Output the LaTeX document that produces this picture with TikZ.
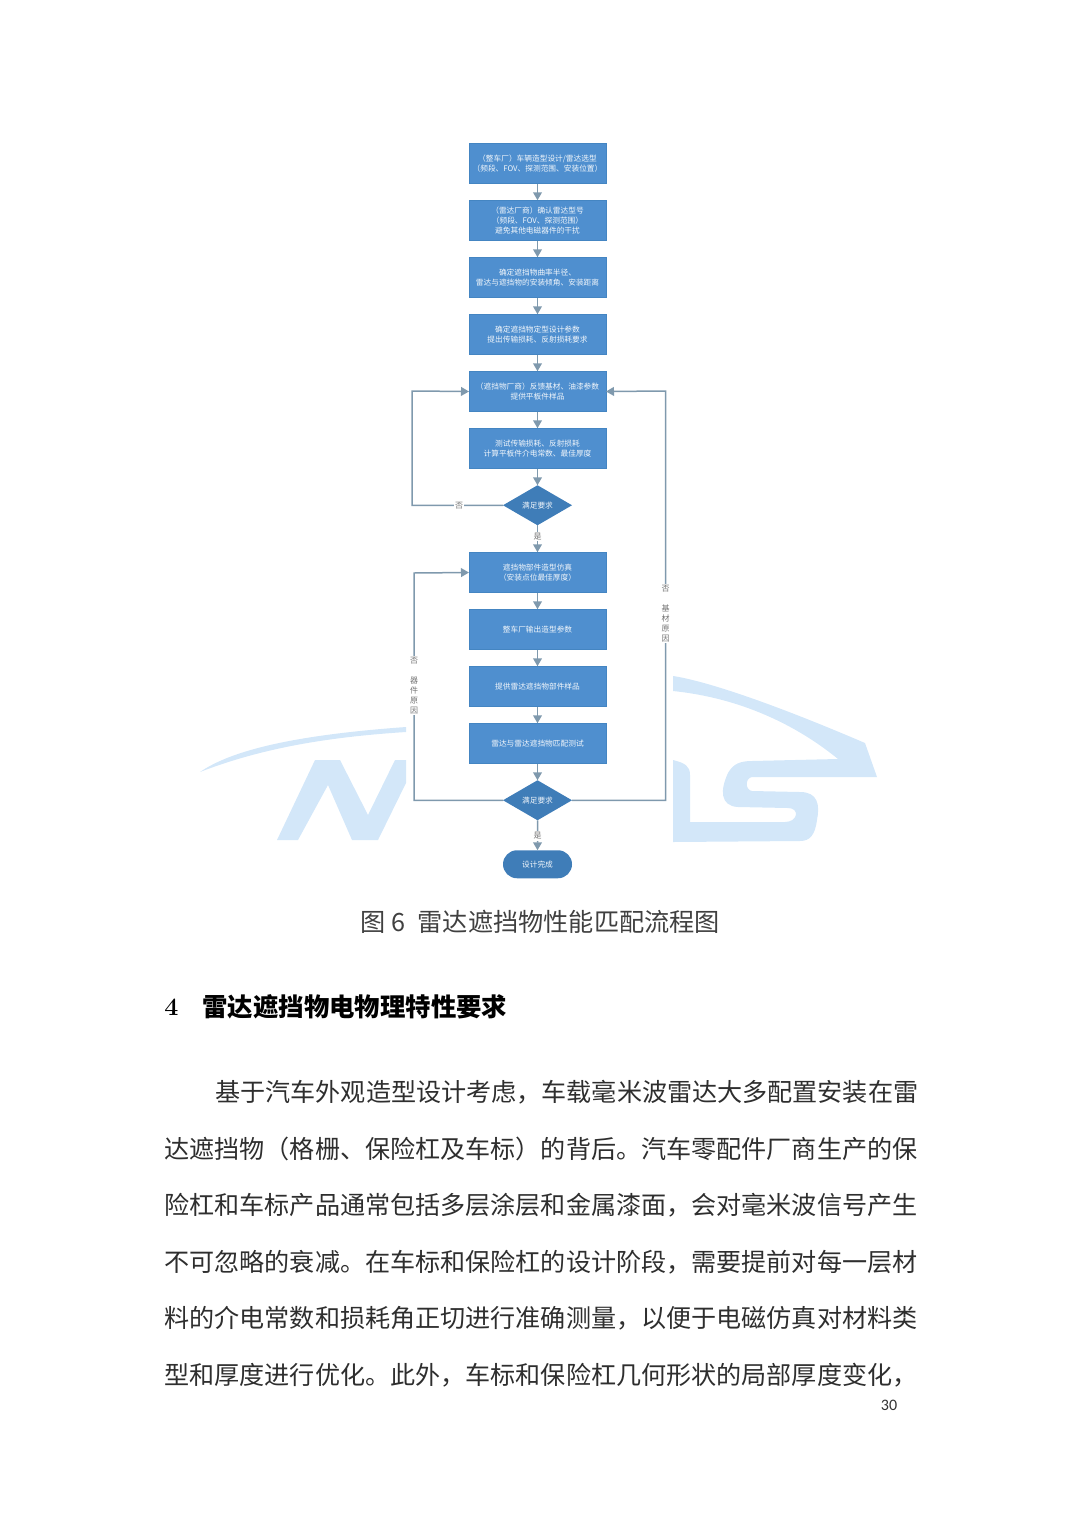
\documentclass[tikz,border=0pt]{standalone}
\usepackage{fontspec}
\usepackage{xcolor}
\usetikzlibrary{positioning,arrows.meta,shapes.geometric,shapes.misc}
\newfontfamily\cjk{Noto Sans CJK SC}
\newfontfamily\pagefont{Carlito}
\definecolor{boxblue}{HTML}{4F8FCF}
\definecolor{boxedge}{HTML}{4485C2}
\definecolor{deepblue}{HTML}{3F7DB8}
\definecolor{linegray}{HTML}{7F99AD}
\definecolor{markblue}{HTML}{D3E7F9}

\begin{document}
\begin{tikzpicture}[
  x=0.5pt, y=-0.5pt,
  node distance=8.25pt,
  every node/.style={font=\cjk},
  stepbox/.style={draw=boxedge, fill=boxblue, text=white!92!boxblue, line width=0.3pt,
                  minimum width=68.5pt, minimum height=20.25pt, inner sep=0pt,
                  outer sep=0pt, align=center,
                  font=\cjk\fontsize{3.85}{5.2}\selectfont},
  choice/.style={diamond, fill=deepblue, text=white!92!boxblue, shape aspect=1.72,
                 minimum width=34.5pt, minimum height=20pt, inner sep=0pt,
                 outer sep=0pt, font=\cjk\fontsize{3.85}{5}\selectfont},
  finish/.style={rounded rectangle, fill=deepblue, text=white!92!boxblue,
                 minimum width=34.5pt, minimum height=14pt, inner sep=0pt,
                 outer sep=0pt, font=\cjk\fontsize{3.85}{5}\selectfont},
  arr/.style={-{Triangle[length=4pt,width=4.4pt]}, line width=0.75pt, linegray},
  tag/.style={fill=white, text=black!55, inner sep=0.6pt, align=center,
              font=\cjk\fontsize{4}{5}\selectfont},
  bodyline/.style={anchor=west, inner sep=0pt, text=black!82,
                   font=\cjk\fontsize{12.55}{15}\selectfont},
  logo/.style={fill=markblue, draw=none}
]
\useasboundingbox (0,0) rectangle (1080,1526);

% background mark
\path[logo] (277,840) -- (315,760) -- (340,760) -- (368,815) -- (395,760) -- (406,760)
  -- (406,783) -- (378,840) -- (352,840) -- (328,785) -- (298,840) -- cycle;
\path[logo] (200,772) .. controls (232,750) and (295,735) .. (406,727) -- (406,732)
  .. controls (328,737) and (262,748) .. cycle;
\path[logo] (673,676) .. controls (700,680) and (760,698) .. (865,743) -- (877,777)
  -- (752,777) .. controls (745,778) and (745,790) .. (752,791) -- (800,792)
  .. controls (818,792) and (820,805) .. (817,820) .. controls (815,835) and (810,841) .. (800,841)
  -- (673,842) -- (673,760) .. controls (685,763) and (690,766) .. (690,775) -- (690,822)
  -- (785,822) .. controls (798,822) and (800,808) .. (788,808) -- (738,807)
  .. controls (720,806) and (720,790) .. (728,773) .. controls (733,764) and (740,761) .. (752,761)
  -- (838,759) .. controls (805,732) and (750,699) .. (673,691) -- cycle;

% flow chart
\node[stepbox] (car) at (537.5,163.5) {（整车厂）车辆造型设计/雷达选型\\（频段、FOV、探测范围、安装位置）};
\node[stepbox, below=of car]   (radar)  {（雷达厂商）确认雷达型号\\（频段、FOV、探测范围）\\避免其他电磁器件的干扰};
\node[stepbox, below=of radar] (curve)  {确定遮挡物曲率半径、\\雷达与遮挡物的安装倾角、安装距离};
\node[stepbox, below=of curve] (param)  {确定遮挡物定型设计参数\\提出传输损耗、反射损耗要求};
\node[stepbox, below=of param] (sample) {（遮挡物厂商）反馈基材、油漆参数\\提供平板件样品};
\node[stepbox, below=of sample] (test)  {测试传输损耗、反射损耗\\计算平板件介电常数、最佳厚度};
\node[choice, below=of test]   (okA)    {满足要求};
\node[stepbox, below=13.5pt of okA] (sim) {遮挡物部件造型仿真\\（安装点位最佳厚度）};
\node[stepbox, below=of sim]   (shape)  {整车厂输出造型参数};
\node[stepbox, below=of shape] (part)   {提供雷达遮挡物部件样品};
\node[stepbox, below=of part]  (match)  {雷达与雷达遮挡物匹配测试};
\node[choice, below=of match]  (okB)    {满足要求};
\node[finish, below=15pt of okB] (done) {设计完成};

\coordinate (loopA) at (412,391);
\coordinate (loopB) at (414,573);
\coordinate (loopC) at (665.5,391);

\draw[arr] (car)    -- (radar);
\draw[arr] (radar)  -- (curve);
\draw[arr] (curve)  -- (param);
\draw[arr] (param)  -- (sample);
\draw[arr] (sample) -- (test);
\draw[arr] (test)   -- (okA);
\draw[arr] (okA)    -- (sim);
\draw[arr] (sim)    -- (shape);
\draw[arr] (shape)  -- (part);
\draw[arr] (part)   -- (match);
\draw[arr] (match)  -- (okB);
\draw[arr] (okB)    -- (done);
\draw[arr] (okA.west) -| (loopA) -- (sample.west);
\draw[arr] (okB.west) -| (loopB) -- (sim.west);
\draw[arr] (okB.east) -| (loopC) -- (sample.east);

\node[tag] (noA)  at (459,505.5) {否};
\node[tag] (yesA) at (537.5,536.5) {是};
\node[tag] (yesB) at (537.5,836) {是};
\node[tag] (noB)  at (414,685.5) {否\\ \\器\\件\\原\\因};
\node[tag] (noC)  at (665.5,613.5) {否\\ \\基\\材\\原\\因};

% page text
\node[text=black!75, inner sep=0pt, font=\cjk\fontsize{12.6}{15}\selectfont] (caption) at (540.5,922)
  {图 6\hspace{6pt}雷达遮挡物性能匹配流程图};
\node[anchor=west, inner sep=0pt, font=\rmfamily\bfseries\fontsize{12.5}{15}\selectfont] (secnum) at (164,1007) {4};
\node[anchor=west, inner sep=0pt, font=\cjk\bfseries\fontsize{12.7}{15}\selectfont] (sectitle) at (202,1007)
  {雷达遮挡物电物理特性要求};
\node[bodyline] (lineA) at (215,1092) {基于汽车外观造型设计考虑，车载毫米波雷达大多配置安装在雷};
\node[bodyline] (lineB) at (164,1149) {达遮挡物（格栅、保险杠及车标）的背后。汽车零配件厂商生产的保};
\node[bodyline] (lineC) at (164,1205) {险杠和车标产品通常包括多层涂层和金属漆面，会对毫米波信号产生};
\node[bodyline] (lineD) at (164,1262) {不可忽略的衰减。在车标和保险杠的设计阶段，需要提前对每一层材};
\node[bodyline] (lineE) at (164,1318) {料的介电常数和损耗角正切进行准确测量，以便于电磁仿真对材料类};
\node[bodyline] (lineF) at (164,1375) {型和厚度进行优化。此外，车标和保险杠几何形状的局部厚度变化，};
\node[inner sep=0pt, text=black!80, font=\pagefont\fontsize{8}{10}\selectfont] (pagenum) at (889,1405.5) {30};
\end{tikzpicture}
\end{document}
